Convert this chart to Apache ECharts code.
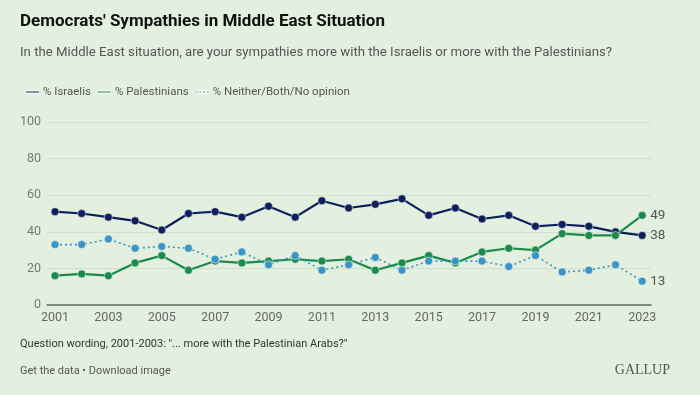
<!DOCTYPE html>
<html><head><meta charset="utf-8">
<script src="https://cdn.jsdelivr.net/npm/echarts@6/dist/echarts.min.js"></script>
<style>html,body{margin:0;padding:0;background:#e3f0df;}#c{width:700px;height:395px;}</style>
</head><body><div id="c"></div>
<script>
const years = [2001,2002,2003,2004,2005,2006,2007,2008,2009,2010,2011,2012,2013,2014,2015,2016,2017,2018,2019,2020,2021,2022,2023];
const israelis = [51,50,48,46,41,50,51,48,54,48,57,53,55,58,49,53,47,49,43,44,43,40,38];
const palestinians = [16,17,16,23,27,19,24,23,24,25,24,25,19,23,27,23,29,31,30,39,38,38,49];
const neither = [33,33,36,31,32,31,25,29,22,27,19,22,26,19,24,24,24,21,27,18,19,22,13];
const xTicks = [2001,2003,2005,2007,2009,2011,2013,2015,2017,2019,2021,2023];
const seriesNames = ['% Israelis','% Palestinians','% Neither/Both/No opinion'];
const colors = ['#0f1f5c','#1b8a4a','#3a94c4'];

const chart = echarts.init(document.getElementById('c'));
const pair = arr => years.map((y,i)=>[y,arr[i]]);
const mk = (name, arr, color, dotted) => ({
  name, type:'line', data: pair(arr), color,
  symbol:'circle', symbolSize:8,
  itemStyle:{color, borderColor:'rgba(255,255,255,0.5)', borderWidth:1},
  lineStyle:{color, width: dotted?1.6:2.2, type: dotted?[2,3]:'solid'},
  emphasis:{disabled:true},
  endLabel:{show:true, formatter: p=>p.value[1], color:'#555', fontSize:13.5, fontFamily:'Roboto', distance:8}
});
const solidIcon = 'path://M0,0h20v3h-20z';
const dotIcon = 'path://M0,0h3v3h-3z M6,0h3v3h-3z M12,0h3v3h-3z M18,0h3v3h-3z';
chart.setOption({
  backgroundColor:'#e3f0df',
  animation:false,
  textStyle:{fontFamily:'Roboto'},
  graphic:[
    {type:'text', left:20, top:13, style:{text:"Democrats' Sympathies in Middle East Situation", font:'bold 17px Roboto', fill:'#111'}},
    {type:'text', left:20, top:46, style:{text:'In the Middle East situation, are your sympathies more with the Israelis or more with the Palestinians?', font:'13.2px Roboto', fill:'#555'}},
    {type:'text', left:20, top:339, style:{text:'Question wording, 2001-2003: "... more with the Palestinian Arabs?"', font:'11px Roboto', fill:'#333'}},
    {type:'text', left:20, top:366, style:{text:'Get the data \u2022 Download image', font:'11px Roboto', fill:'#555'}},
    {type:'text', right:30, top:363, style:{text:'GALLUP', font:'14px "Liberation Serif"', fill:'#555'}}
  ],
  legend:{
    left:20, top:81, itemWidth:13, itemHeight:2, itemGap:6,
    textStyle:{color:'#555', fontSize:11.5, fontFamily:'Roboto', padding:[0,0,0,-1]},
    data:[
      {name:seriesNames[0], icon:solidIcon},
      {name:seriesNames[1], icon:solidIcon},
      {name:seriesNames[2], icon:dotIcon}
    ]
  },
  grid:{left:47, right:49, top:122, bottom:90},
  xAxis:{type:'value', min:2000.7, max:2023.33,
    axisLine:{show:true, lineStyle:{color:'#666', width:1.5}},
    axisTick:{show:false},
    splitLine:{show:false},
    axisLabel:{customValues:xTicks, color:'#666', fontSize:12.5, margin:6, formatter: v=>String(v)}
  },
  yAxis:{type:'value', min:0, max:100, interval:20,
    axisLine:{show:false}, axisTick:{show:false},
    splitLine:{lineStyle:{color:'#cfe0cc', width:1}},
    axisLabel:{color:'#777', fontSize:12.5, margin:6}
  },
  series:[
    mk(seriesNames[0], israelis, colors[0], false),
    mk(seriesNames[1], palestinians, colors[1], false),
    mk(seriesNames[2], neither, colors[2], true)
  ]
});
</script></body></html>
